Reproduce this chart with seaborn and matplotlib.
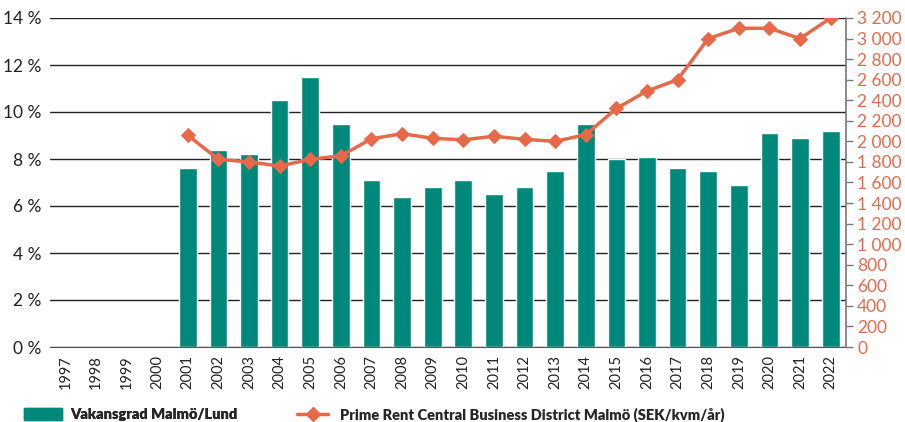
import matplotlib
matplotlib.use("Agg")
import matplotlib.pyplot as plt
from matplotlib.patches import Patch
from matplotlib.lines import Line2D
from matplotlib.ticker import FuncFormatter, MultipleLocator, FixedLocator
import numpy as np
import pandas as pd
import seaborn as sns

years = [str(y) for y in range(1997, 2023)]
vacancy = [np.nan, np.nan, np.nan, np.nan, 7.6, 8.4, 8.2, 10.5, 11.5, 9.5,
           7.1, 6.4, 6.8, 7.1, 6.5, 6.8, 7.5, 9.5, 8.0, 8.1,
           7.6, 7.5, 6.9, 9.1, 8.9, 9.2]
prime_rent = [np.nan, np.nan, np.nan, np.nan, 2060, 1825, 1800, 1760, 1825, 1860,
              2025, 2075, 2030, 2015, 2050, 2020, 2000, 2065, 2320, 2490,
              2600, 3000, 3100, 3100, 3000, 3200]

bar_label = "Vakansgrad Malmö/Lund"
line_label = "Prime Rent Central Business District Malmö (SEK/kvm/år)"

teal = "#00897B"
orange = "#E8694A"

df = pd.DataFrame({"Year": years, "Vacancy": vacancy, "Rent": prime_rent})
df["pos"] = np.arange(len(df))

sns.set_style("white")
plt.rcParams["font.family"] = ["Lato", "DejaVu Sans"]

fig = plt.figure(figsize=(9.05, 4.22), dpi=100)
ax = fig.add_axes([50 / 905, 1 - 347 / 422, (846 - 50) / 905, (347 - 18) / 422])

sns.barplot(data=df, x="Year", y="Vacancy", color=teal, width=0.58,
            saturation=1, ax=ax, zorder=2)
ax.set_ylim(0, 14)
ax.set_xlim(-0.5, len(years) - 0.5)
ax.yaxis.set_major_locator(MultipleLocator(2))
ax.yaxis.set_major_formatter(FuncFormatter(lambda v, p: f"{v:.0f} %"))
ax.grid(axis="y", color="#222222", linewidth=1.0, zorder=0)
ax.set_axisbelow(True)
ax.set_xlabel("")
ax.set_ylabel("")
for s in ["left", "top", "right"]:
    ax.spines[s].set_visible(False)
ax.spines["bottom"].set_color("#555555")
ax.tick_params(axis="y", length=0, labelsize=12.5, pad=6, colors="#222222")
ax.tick_params(axis="x", which="major", length=0, labelsize=10.5, rotation=90,
               pad=6, colors="#222222")
ax.xaxis.set_minor_locator(FixedLocator(np.arange(-0.5, len(years), 1.0)))
ax.tick_params(axis="x", which="minor", length=5, width=1, color="#555555",
               direction="out")
gl = ax.get_ygridlines()
gl[-1].set_color("#e8e8e8")

ax2 = ax.twinx()
sns.lineplot(data=df, x="pos", y="Rent", color=orange, marker="D",
             markersize=7, markeredgecolor=orange, linewidth=2.5, ax=ax2,
             zorder=3)
ax2.set_ylim(0, 3200)
ax2.set_xlim(-0.5, len(years) - 0.5)
ax2.yaxis.set_major_locator(MultipleLocator(200))
ax2.yaxis.set_major_formatter(
    FuncFormatter(lambda v, p: f"{v:,.0f}".replace(",", " ")))
ax2.set_xlabel("")
ax2.set_ylabel("")
for s in ["left", "top", "bottom"]:
    ax2.spines[s].set_visible(False)
ax2.spines["right"].set_color("#777777")
ax2.spines["right"].set_linewidth(1.2)
ax2.tick_params(axis="y", length=5, width=1, color="#777777", direction="out",
                labelsize=12.5, labelcolor=orange, pad=3)

leg1 = fig.legend(handles=[Patch(facecolor=teal, edgecolor=teal)],
                  labels=[bar_label], loc="center left",
                  bbox_to_anchor=(0.012, 0.017), frameon=False,
                  handlelength=2.6, handleheight=0.9, handletextpad=0.6,
                  prop={"weight": "heavy", "size": 10.5})
fig.add_artist(leg1)
fig.legend(handles=[Line2D([0], [0], color=orange, marker="D", markersize=7,
                           linewidth=2.5)],
           labels=[line_label], loc="center left",
           bbox_to_anchor=(0.314, 0.017), frameon=False,
           handlelength=2.1, handletextpad=0.8,
           prop={"weight": "heavy", "size": 10.5})

fig.savefig("out.png", dpi=100)
